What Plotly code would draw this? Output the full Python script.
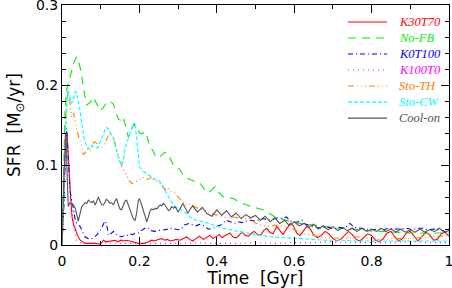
import plotly.graph_objects as go

# ---------------- data (time [Gyr], SFR [Msun/yr]) ----------------
names = ["K30T70", "No-FB", "K0T100", "K100T0", "Sto-TH", "Sto-CW", "Cool-on"]

k30t70 = [(0,0),(0.005,0.06),(0.01,0.135),(0.013,0.14),(0.016,0.106),(0.021,0.069),(0.026,0.035),(0.03,0.025),
          (0.034,0.021),(0.04,0.012),(0.047,0.006),(0.055,0.003),(0.06,0.002),(0.07,0.002),(0.085,0.002),(0.1,0.001),
          (0.107,0.006),(0.114,0.004),(0.122,0.005),(0.13,0.006),(0.137,0.006),(0.145,0.004),(0.152,0.006),(0.16,0.005),
          (0.167,0.006),(0.175,0.005),(0.182,0.004),(0.19,0.003),(0.197,0.002),(0.205,0.002),(0.212,0.002),(0.22,0.003),
          (0.227,0.005),(0.232,0.006),(0.24,0.005),(0.248,0.007),(0.258,0.008),(0.265,0.006),(0.272,0.007),(0.28,0.005),
          (0.288,0.006),(0.295,0.007),(0.305,0.006),(0.313,0.008),(0.322,0.01),(0.33,0.007),(0.338,0.005),(0.346,0.008),
          (0.355,0.011),(0.365,0.007),(0.374,0.01),(0.382,0.012),(0.39,0.008),(0.398,0.011),(0.406,0.013),(0.414,0.009),
          (0.422,0.012),(0.434,0.015),(0.442,0.01),(0.45,0.009),(0.458,0.013),(0.466,0.016),(0.474,0.012),(0.482,0.011),
          (0.49,0.015),(0.497,0.017),(0.505,0.013),(0.513,0.012),(0.521,0.018),(0.529,0.021),(0.537,0.016),(0.545,0.014),
          (0.555,0.023),(0.563,0.018),(0.571,0.013),(0.58,0.02),(0.59,0.027),(0.598,0.024),(0.606,0.015),(0.615,0.012),
          (0.625,0.018),(0.632,0.023),(0.64,0.021),(0.65,0.013),(0.66,0.009),(0.67,0.012),(0.68,0.017),(0.69,0.014),
          (0.7,0.008),(0.71,0.005),(0.72,0.007),(0.73,0.012),(0.74,0.017),(0.75,0.013),(0.76,0.007),(0.77,0.005),
          (0.78,0.009),(0.79,0.014),(0.8,0.012),(0.81,0.006),(0.82,0.004),(0.83,0.008),(0.84,0.015),(0.85,0.017),
          (0.86,0.01),(0.87,0.005),(0.88,0.008),(0.89,0.015),(0.9,0.017),(0.91,0.011),(0.92,0.005),(0.93,0.01),
          (0.94,0.016),(0.95,0.013),(0.96,0.006),(0.97,0.007),(0.98,0.014),(0.99,0.016),(1.0,0.011)]

no_fb = [(0,0),(0.004,0.08),(0.008,0.17),(0.012,0.195),(0.018,0.205),(0.025,0.218),(0.032,0.23),(0.038,0.235),
         (0.044,0.228),(0.05,0.215),(0.056,0.195),(0.064,0.175),(0.072,0.178),(0.081,0.185),(0.09,0.176),(0.098,0.168),
         (0.107,0.172),(0.115,0.178),(0.124,0.18),(0.133,0.176),(0.14,0.165),(0.146,0.157),(0.152,0.156),(0.158,0.16),
         (0.165,0.148),(0.171,0.135),(0.178,0.14),(0.186,0.152),(0.193,0.148),(0.2,0.14),(0.207,0.139),(0.214,0.142),
         (0.22,0.135),(0.227,0.123),(0.235,0.118),(0.242,0.11),(0.25,0.109),(0.258,0.112),(0.266,0.116),(0.274,0.113),
         (0.281,0.106),(0.288,0.1),(0.296,0.098),(0.305,0.094),(0.313,0.087),(0.322,0.084),(0.335,0.081),(0.346,0.079),
         (0.357,0.077),(0.367,0.07),(0.378,0.065),(0.387,0.069),(0.395,0.073),(0.405,0.066),(0.417,0.06),(0.43,0.059),
         (0.443,0.058),(0.46,0.053),(0.475,0.05),(0.49,0.048),(0.505,0.046),(0.52,0.044),(0.535,0.04),(0.55,0.035),
         (0.565,0.033),(0.58,0.031),(0.598,0.028),(0.615,0.027),(0.632,0.026),(0.65,0.025),(0.67,0.023),(0.69,0.022),
         (0.71,0.021),(0.73,0.021),(0.75,0.02),(0.77,0.019),(0.79,0.018),(0.81,0.017),(0.83,0.017),(0.85,0.016),
         (0.87,0.016),(0.89,0.015),(0.91,0.015),(0.93,0.015),(0.95,0.014),(0.97,0.015),(1.0,0.015)]

k0t100 = [(0,0),(0.005,0.05),(0.009,0.12),(0.012,0.146),(0.016,0.11),(0.021,0.067),(0.025,0.055),(0.03,0.045),
          (0.034,0.031),(0.04,0.026),(0.047,0.023),(0.054,0.016),(0.06,0.01),(0.068,0.008),(0.077,0.008),(0.084,0.01),
          (0.09,0.0125),(0.095,0.016),(0.1,0.019),(0.105,0.024),(0.111,0.03),(0.115,0.027),(0.12,0.012),(0.126,0.014),
          (0.133,0.017),(0.14,0.013),(0.147,0.011),(0.154,0.01),(0.161,0.012),(0.168,0.012),(0.175,0.014),(0.183,0.013),
          (0.19,0.015),(0.197,0.015),(0.205,0.018),(0.212,0.02),(0.218,0.022),(0.223,0.021),(0.23,0.018),(0.24,0.017),
          (0.248,0.018),(0.256,0.019),(0.266,0.019),(0.274,0.02),(0.283,0.021),(0.29,0.02),(0.3,0.019),(0.309,0.02),
          (0.316,0.025),(0.322,0.026),(0.33,0.027),(0.338,0.025),(0.346,0.024),(0.357,0.026),(0.367,0.024),(0.378,0.02),
          (0.388,0.02),(0.398,0.023),(0.41,0.025),(0.425,0.031),(0.435,0.029),(0.445,0.027),(0.455,0.029),(0.465,0.028),
          (0.475,0.03),(0.487,0.031),(0.5,0.03),(0.51,0.031),(0.52,0.033),(0.53,0.032),(0.54,0.031),(0.55,0.033),
          (0.56,0.034),(0.57,0.033),(0.58,0.035),(0.59,0.03),(0.6,0.028),(0.61,0.029),(0.62,0.031),(0.63,0.026),
          (0.64,0.024),(0.655,0.022),(0.67,0.021),(0.685,0.023),(0.7,0.02),(0.715,0.022),(0.73,0.021),(0.744,0.027),
          (0.755,0.022),(0.77,0.021),(0.785,0.02),(0.8,0.019),(0.815,0.02),(0.83,0.019),(0.845,0.021),(0.86,0.02),
          (0.875,0.02),(0.89,0.021),(0.905,0.019),(0.92,0.021),(0.933,0.021),(0.945,0.019),(0.96,0.02),(0.975,0.019),
          (0.985,0.018),(0.994,0.015),(1.0,0.016)]

k100t0 = [(0,0),(0.005,0.05),(0.01,0.12),(0.014,0.131),(0.018,0.09),(0.025,0.048),(0.03,0.023),(0.038,0.006),
          (0.045,0.003),(0.06,0.002),(0.08,0.002),(0.1,0.003),(0.15,0.002),(0.2,0.002),(0.25,0.002),(0.3,0.002),
          (0.35,0.003),(0.4,0.002),(0.45,0.002),(0.5,0.003),(0.55,0.002),(0.6,0.003),(0.65,0.003),(0.7,0.004),
          (0.75,0.003),(0.8,0.003),(0.85,0.003),(0.9,0.004),(0.95,0.003),(1.0,0.003)]

sto_th = [(0,0),(0.005,0.07),(0.01,0.17),(0.016,0.196),(0.02,0.18),(0.025,0.16),(0.03,0.165),(0.035,0.15),
          (0.04,0.14),(0.045,0.132),(0.05,0.125),(0.055,0.113),(0.06,0.115),(0.066,0.12),(0.072,0.117),(0.078,0.125),
          (0.084,0.129),(0.09,0.127),(0.096,0.122),(0.102,0.121),(0.108,0.125),(0.114,0.131),(0.12,0.138),(0.125,0.142),
          (0.13,0.137),(0.135,0.13),(0.141,0.12),(0.147,0.11),(0.153,0.1),(0.158,0.094),(0.163,0.09),(0.168,0.085),
          (0.174,0.08),(0.18,0.077),(0.188,0.078),(0.197,0.08),(0.205,0.083),(0.214,0.085),(0.222,0.082),(0.232,0.085),
          (0.24,0.08),(0.249,0.079),(0.257,0.075),(0.266,0.069),(0.272,0.072),(0.279,0.067),(0.286,0.066),(0.293,0.065),
          (0.3,0.06),(0.307,0.056),(0.313,0.054),(0.32,0.05),(0.326,0.052),(0.335,0.05),(0.345,0.047),(0.355,0.045),
          (0.365,0.044),(0.374,0.042),(0.385,0.04),(0.395,0.038),(0.405,0.037),(0.417,0.035),(0.43,0.034),(0.445,0.035),
          (0.46,0.033),(0.475,0.033),(0.486,0.033),(0.498,0.028),(0.51,0.025),(0.523,0.024),(0.537,0.023),(0.55,0.025),
          (0.565,0.024),(0.578,0.022),(0.59,0.021),(0.61,0.017),(0.63,0.013),(0.65,0.012),(0.667,0.01),(0.69,0.009),
          (0.715,0.008),(0.736,0.008),(0.755,0.01),(0.77,0.01),(0.79,0.008),(0.81,0.006),(0.83,0.007),(0.855,0.008),
          (0.88,0.008),(0.9,0.008),(0.92,0.009),(0.945,0.01),(0.965,0.011),(0.985,0.012),(1.0,0.012)]

sto_cw = [(0,0),(0.005,0.06),(0.01,0.15),(0.015,0.194),(0.02,0.185),(0.025,0.177),(0.03,0.183),(0.034,0.192),
          (0.038,0.19),(0.042,0.181),(0.046,0.17),(0.05,0.156),(0.054,0.142),(0.058,0.131),(0.064,0.123),(0.07,0.12),
          (0.077,0.125),(0.083,0.122),(0.09,0.121),(0.095,0.124),(0.1,0.131),(0.107,0.14),(0.114,0.147),(0.12,0.145),
          (0.126,0.138),(0.133,0.134),(0.138,0.125),(0.143,0.115),(0.148,0.105),(0.154,0.1),(0.158,0.105),(0.163,0.12),
          (0.17,0.132),(0.177,0.142),(0.184,0.15),(0.189,0.148),(0.193,0.135),(0.197,0.115),(0.2,0.098),(0.208,0.093),
          (0.216,0.09),(0.224,0.088),(0.232,0.085),(0.24,0.082),(0.249,0.081),(0.257,0.077),(0.266,0.069),(0.273,0.062),
          (0.28,0.056),(0.286,0.052),(0.292,0.048),(0.3,0.046),(0.31,0.043),(0.32,0.04),(0.331,0.035),(0.345,0.031),
          (0.365,0.029),(0.39,0.025),(0.417,0.021),(0.445,0.018),(0.477,0.015),(0.51,0.012),(0.546,0.01),(0.58,0.009),
          (0.606,0.008),(0.64,0.007),(0.68,0.006),(0.72,0.006),(0.76,0.005),(0.8,0.005),(0.85,0.005),(0.9,0.005),
          (0.95,0.005),(1.0,0.005)]

cool_on = [(0,0),(0.005,0.09),(0.01,0.14),(0.013,0.1),(0.016,0.048),(0.021,0.053),(0.025,0.052),(0.03,0.05),
           (0.034,0.046),(0.038,0.038),(0.042,0.03),(0.047,0.04),(0.051,0.048),(0.055,0.05),(0.06,0.053),(0.064,0.052),
           (0.068,0.056),(0.073,0.054),(0.077,0.053),(0.081,0.055),(0.086,0.05),(0.09,0.055),(0.094,0.06),(0.098,0.055),
           (0.103,0.05),(0.107,0.05),(0.111,0.054),(0.115,0.057),(0.12,0.055),(0.124,0.052),(0.128,0.053),(0.133,0.05),
           (0.137,0.055),(0.141,0.058),(0.146,0.05),(0.15,0.045),(0.154,0.044),(0.158,0.05),(0.163,0.055),(0.167,0.056),
           (0.171,0.05),(0.176,0.044),(0.18,0.038),(0.184,0.033),(0.189,0.031),(0.193,0.04),(0.197,0.055),(0.2,0.058),
           (0.206,0.05),(0.21,0.044),(0.215,0.034),(0.219,0.029),(0.223,0.035),(0.228,0.043),(0.232,0.045),(0.236,0.044),
           (0.241,0.046),(0.245,0.045),(0.249,0.048),(0.254,0.05),(0.258,0.049),(0.262,0.052),(0.266,0.05),(0.271,0.045),
           (0.275,0.043),(0.279,0.044),(0.283,0.048),(0.288,0.046),(0.292,0.048),(0.296,0.045),(0.3,0.041),
           (0.3125,0.052),(0.325,0.04),(0.3375,0.049),(0.35,0.041),(0.3625,0.047),(0.375,0.039),(0.3875,0.036),(0.4,0.044),
           (0.4125,0.037),(0.425,0.043),(0.4375,0.035),(0.45,0.04),(0.4625,0.033),(0.475,0.038),(0.4875,0.034),(0.5,0.037),
           (0.5125,0.031),(0.525,0.036),(0.5375,0.029),(0.55,0.034),(0.5625,0.027),(0.575,0.031),(0.5875,0.024),(0.6,0.029),
           (0.6125,0.024),(0.625,0.027),(0.6375,0.022),(0.65,0.026),(0.6625,0.02),(0.675,0.024),(0.6875,0.019),(0.7,0.023),
           (0.7125,0.018),(0.725,0.022),(0.7375,0.018),(0.75,0.021),(0.7625,0.017),(0.775,0.021),(0.7875,0.017),(0.8,0.02),
           (0.8125,0.017),(0.825,0.021),(0.8375,0.017),(0.85,0.02),(0.8625,0.016),(0.875,0.02),(0.8875,0.016),(0.9,0.019),
           (0.9125,0.016),(0.925,0.02),(0.9375,0.016),(0.95,0.019),(0.9625,0.017),(0.975,0.021),(0.9875,0.016),(1.0,0.018)]

series = [k30t70, no_fb, k0t100, k100t0, sto_th, sto_cw, cool_on]
x_ticks = [0, 0.2, 0.4, 0.6, 0.8, 1]
x_ticklabels = ["0", "0.2", "0.4", "0.6", "0.8", "1"]
y_ticks = [0, 0.1, 0.2, 0.3]
y_ticklabels = ["0", "0.1", "0.2", "0.3"]

# ---------------- styles ----------------
colors = ["#ff0000", "#00ee00", "#0000ff", "#ff00ff", "#ff8000", "#00ffff", "#555555"]
dashes = ["solid", "8px,6px", "5px,3px,1px,3px", "1px,4px",
          "6px,3px,1px,3px,1px,3px,1px,3px", "4px,2px", "solid"]
label_font = "DejaVu Sans"

fig = go.Figure()
for name, pts, c, d in zip(names, series, colors, dashes):
    fig.add_trace(go.Scatter(
        x=[p[0] for p in pts], y=[p[1] for p in pts], mode="lines", name=name,
        line=dict(color=c, width=1.1, dash=d), showlegend=False))

# legend drawn manually (line samples + italic labels)
leg_y0 = 0.929
leg_dy = 0.0667
for i, (name, c, d) in enumerate(zip(names, colors, dashes)):
    yy = leg_y0 - i * leg_dy
    fig.add_shape(type="line", xref="paper", yref="paper", x0=0.739, x1=0.840, y0=yy, y1=yy,
                  line=dict(color=c, width=1.1, dash=d))
    fig.add_annotation(xref="paper", yref="paper", x=0.865, y=yy, text=name, showarrow=False,
                       xanchor="left", yanchor="middle",
                       font=dict(family="Liberation Serif", size=12.5, color=c, style="italic"))

axis_common = dict(showline=True, linecolor="black", linewidth=1, mirror="allticks",
                   ticks="inside", ticklen=8, tickwidth=1, tickcolor="black",
                   showgrid=False, zeroline=False, automargin=False, ticklabeloverflow="allow",
                   tickfont=dict(family=label_font, size=14, color="black"))

fig.update_xaxes(range=[0, 1], tickvals=x_ticks, ticktext=x_ticklabels, ticklabelstandoff=3,
                 minor=dict(dtick=0.1, tick0=0, ticks="inside", ticklen=4, tickcolor="black", showgrid=False),
                 title=dict(text="Time&nbsp; [Gyr]", font=dict(family=label_font, size=17, color="black"),
                            standoff=6),
                 **axis_common)
fig.update_yaxes(range=[0, 0.3], tickvals=y_ticks, ticktext=y_ticklabels, ticklabelstandoff=0,
                 minor=dict(dtick=0.02, tick0=0, ticks="inside", ticklen=4, tickcolor="black", showgrid=False),
                 title=dict(text="SFR&nbsp; [M<sub>⊙</sub>/yr]", font=dict(family=label_font, size=17, color="black"),
                            standoff=10),
                 **axis_common)

fig.update_layout(width=452, height=288, margin=dict(l=62, r=3, t=5, b=43),
                  plot_bgcolor="white", paper_bgcolor="white", showlegend=False)

fig.write_html("out.html", config={"displayModeBar": False},
               post_script="document.body.style.margin='0';")
